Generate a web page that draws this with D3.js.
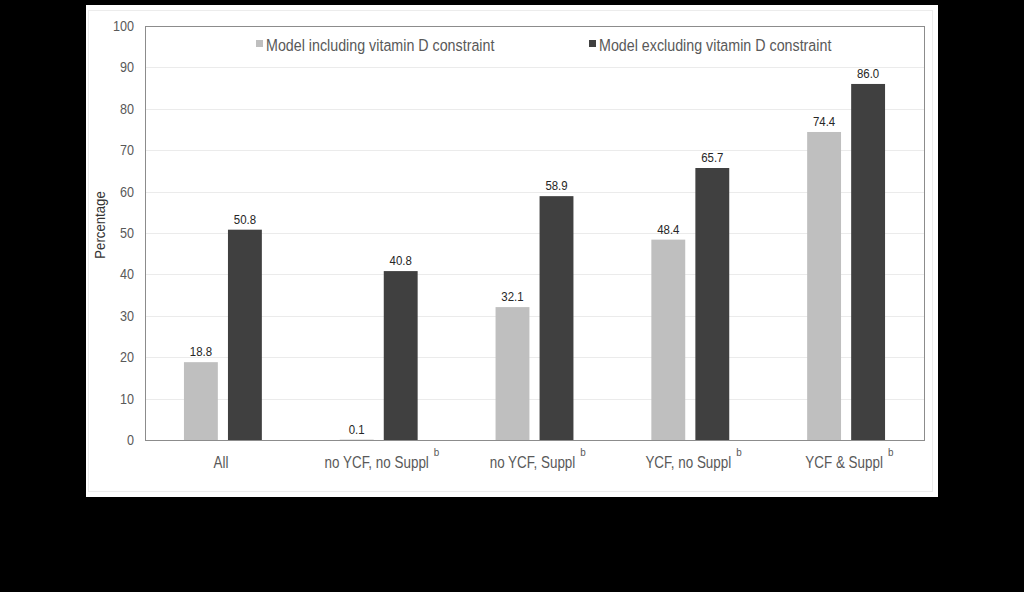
<!DOCTYPE html>
<html>
<head>
<meta charset="utf-8">
<script src="https://cdn.jsdelivr.net/npm/d3@7"></script>
<style>
  html, body { margin: 0; padding: 0; background: #000; }
  svg { display: block; }
  text { font-family: "Liberation Sans", Arial, sans-serif; }
</style>
</head>
<body>
<div id="chart"></div>
<script>
// data
const categories = ['All', 'no YCF, no Suppl', 'no YCF, Suppl', 'YCF, no Suppl', 'YCF & Suppl']
const superscripts = ['', 'b', 'b', 'b', 'b']
const seriesNames = ['Model including vitamin D constraint', 'Model excluding vitamin D constraint']
const includingValues = [18.8, 0.1, 32.1, 48.4, 74.4]
const excludingValues = [50.8, 40.8, 58.9, 65.7, 86.0]
const yTicks = [0, 10, 20, 30, 40, 50, 60, 70, 80, 90, 100]

const width = 1024
const height = 592
const plot = { left: 145, right: 924, top: 26, bottom: 440 }
const colors = ['#bfbfbf', '#404040']

const svg = d3.select('#chart')
  .append('svg')
  .attr('width', width)
  .attr('height', height)

// narrow text: the source font is condensed, so squeeze Liberation Sans
function narrowText (sel, x, y, sx, extra) {
  return sel.append('text')
    .attr('transform', `translate(${x},${y}) ${extra || ''} scale(${sx},1)`)
}

// black page, white card
svg.append('rect').attr('width', width).attr('height', height).attr('fill', '#000')
svg.append('rect')
  .attr('x', 86).attr('y', 5).attr('width', 852).attr('height', 492)
  .attr('fill', '#fff')
svg.append('rect')
  .attr('x', 88.5).attr('y', 10.5).attr('width', 844).attr('height', 481)
  .attr('fill', 'none').attr('stroke', '#ececec')

const y = d3.scaleLinear().domain([0, 100]).range([plot.bottom, plot.top])
const x0 = d3.scaleBand().domain(categories).range([plot.left, plot.right])
const x1 = d3.scaleBand()
  .domain([0, 1])
  .range([x0.bandwidth() * 0.25, x0.bandwidth() * 0.75])
  .paddingInner(0.23)

// gridlines
svg.append('g')
  .selectAll('line')
  .data(yTicks.filter(d => d > 0 && d < 100))
  .join('line')
  .attr('x1', plot.left).attr('x2', plot.right)
  .attr('y1', d => Math.round(y(d)) + 0.5)
  .attr('y2', d => Math.round(y(d)) + 0.5)
  .attr('stroke', '#ebebeb')

// y tick labels
const yt = svg.append('g')
yTicks.forEach(t => {
  narrowText(yt, plot.left - 11, y(t), 0.9)
    .attr('text-anchor', 'end')
    .attr('dy', '0.35em')
    .attr('fill', '#595959')
    .style('font-size', '14px')
    .text(t)
})

// bars
const rows = categories.map((c, i) => ({ cat: c, values: [includingValues[i], excludingValues[i]] }))
const groups = svg.append('g')
  .selectAll('g')
  .data(rows)
  .join('g')
  .attr('transform', d => `translate(${x0(d.cat)},0)`)

groups.selectAll('rect')
  .data(d => d.values.map((v, s) => ({ v, s })))
  .join('rect')
  .attr('x', d => x1(d.s))
  .attr('width', x1.bandwidth())
  .attr('y', d => y(d.v))
  .attr('height', d => y(0) - y(d.v))
  .attr('fill', d => colors[d.s])

groups.each(function (d) {
  const g = d3.select(this)
  d.values.forEach((v, s) => {
    narrowText(g, x1(s) + x1.bandwidth() / 2, y(v) - 6, 0.88)
      .attr('text-anchor', 'middle')
      .attr('fill', '#262626')
      .style('font-size', '13px')
      .text(d3.format('.1f')(v))
  })
})

// plot frame
svg.append('rect')
  .attr('x', plot.left + 0.5).attr('y', plot.top + 0.5)
  .attr('width', plot.right - plot.left).attr('height', plot.bottom - plot.top)
  .attr('fill', 'none').attr('stroke', '#8c8c8c')

// x labels with superscript
const xl = svg.append('g')
categories.forEach((c, i) => {
  const cx = x0(c) + x0.bandwidth() / 2 - 2
  const t = narrowText(xl, cx, 468, 0.84)
    .attr('text-anchor', 'middle')
    .attr('fill', '#595959')
    .style('font-size', '16px')
    .text(c)
  if (!superscripts[i]) return
  const w = t.node().getComputedTextLength() * 0.84
  narrowText(xl, cx + w / 2 + 5, 456, 0.9)
    .attr('fill', '#595959')
    .style('font-size', '11px')
    .text(superscripts[i])
})

// y axis title
narrowText(svg, 104.5, 225, 0.88, 'rotate(-90)')
  .attr('text-anchor', 'middle')
  .attr('fill', '#333')
  .style('font-size', '15px')
  .text('Percentage')

// legend
const legendX = [256, 589]
seriesNames.forEach((name, i) => {
  const g = svg.append('g').attr('transform', `translate(${legendX[i]},45)`)
  g.append('rect')
    .attr('x', 0).attr('y', -5).attr('width', 7).attr('height', 7)
    .attr('fill', colors[i])
  narrowText(g, 10, 0, 0.84)
    .attr('dy', '0.35em')
    .attr('fill', '#595959')
    .style('font-size', '17px')
    .text(name)
})
</script>
</body>
</html>
